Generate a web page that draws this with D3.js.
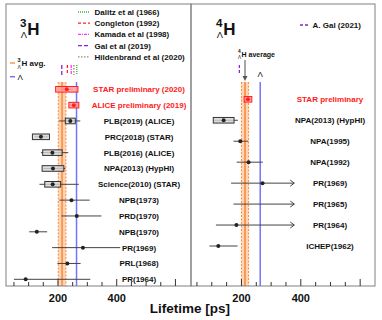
<!DOCTYPE html>
<html>
<head>
<meta charset="utf-8">
<script src="https://cdn.jsdelivr.net/npm/d3@7"></script>
<style>
body { margin: 0; background: #fff; }
text { font-family: "Liberation Sans", Arial, Helvetica, sans-serif; }
</style>
</head>
<body>
<svg id="chart" width="382" height="320"></svg>
<script>
// hypertriton measurements, top to bottom
const h3Labels = ["STAR preliminary (2020)", "ALICE preliminary (2019)", "PLB(2019) (ALICE)", "PRC(2018) (STAR)",
    "PLB(2016) (ALICE)", "NPA(2013) (HypHI)", "Science(2010) (STAR)", "NPB(1973)", "PRD(1970)",
    "NPB(1970)", "PR(1969)", "PRL(1968)", "PR(1964)"];
const h3Tau  = [230, 254, 242, 142, 181, 183, 182, 246, 264, 128, 285, 232, 90];
const h3Low  = [210, 239, 204, 121, 142, 151, 137, 205, 212, 102, 180, 198, 50];
const h3High = [250, 269, 276, 166, 235, 225, 271, 308, 348, 163, 412, 277, 310];
const h3Sys  = [38, 17, 17, 29, 33, 37, 27, 0, 0, 0, 0, 0, 0];
const h3Prelim = [true, true, false, false, false, false, false, false, false, false, false, false, false];

// 4LH measurements
const h4Labels = ["STAR preliminary", "NPA(2013) (HypHI)", "NPA(1995)", "NPA(1992)", "PR(1969)",
    "PR(1965)", "PR(1964)", "ICHEP(1962)"];
const h4Tau  = [222, 140, 196, 224, 271, null, 183, 122];
const h4Low  = [212, 107, 173, 184, 165, 173, 114, 92];
const h4High = [232, 188, 223, 272, 378, 378, 378, 187];
const h4Sys  = [13, 35, 0, 0, 0, 0, 0, 0];
const h4Arrow = [false, false, false, false, true, true, true, false];
const h4Prelim = [true, false, false, false, false, false, false, false];

// theory predictions
const h3TheoryNames = ["Dalitz et al (1966)", "Congleton (1992)", "Kamada et al (1998)", "Gal et al (2019)", "Hildenbrand et al (2020)"];
const h3TheoryTau = [264, 232, 245, 213, 254];
const h3TheoryColor = ["#33bb33", "#ff2020", "#ff33ff", "#8822dd", "#a08878"];
const h3TheoryDash = ["1,1", "3,2", "3,1,1,1", "4,2", "1.5,1.5"];
const h4TheoryNames = ["A. Gal (2021)"];
const h4TheoryTau = [193];

const lambdaTau = 263.2;
const h3Avg = 214, h3AvgErr = 13;
const h4Avg = 212, h4AvgErr = 12;

const ticks = [50, 100, 150, 200, 250, 300, 350, 400, 450, 500, 550, 600];
const tickLabels = [200, 400];

let svg = d3.select("#chart");
svg.append("rect").attr("width", 382).attr("height", 320).attr("fill", "#fff");

const plotTop = 4, plotBottom = 286;

function panel(xScale, rowY, opts) {
    let g = svg.append("g");
    let x0 = xScale.range()[0], x1 = xScale.range()[1];

    // average band
    let bandTop = 82;
    g.append("rect")
        .attr("x", xScale(opts.avg - opts.avgErr)).attr("y", bandTop)
        .attr("width", xScale(opts.avg + opts.avgErr) - xScale(opts.avg - opts.avgErr))
        .attr("height", plotBottom - bandTop)
        .attr("fill", "#fdd6b8");
    [opts.avg - opts.avgErr, opts.avg + opts.avgErr].forEach(function(v) {
        g.append("line").attr("x1", xScale(v)).attr("x2", xScale(v))
            .attr("y1", bandTop).attr("y2", plotBottom)
            .attr("stroke", "#ff8a3d").attr("stroke-width", 1).attr("stroke-dasharray", "2,1.5");
    });
    g.append("line").attr("x1", xScale(opts.avg)).attr("x2", xScale(opts.avg))
        .attr("y1", bandTop).attr("y2", plotBottom)
        .attr("stroke", "#f89a55").attr("stroke-width", 2);

    // lambda lifetime
    g.append("line").attr("x1", xScale(lambdaTau)).attr("x2", xScale(lambdaTau))
        .attr("y1", bandTop).attr("y2", plotBottom)
        .attr("stroke", "#7474ff").attr("stroke-width", 1.5);

    // measurements
    opts.labels.forEach(function(lab, i) {
        let y = rowY(lab);
        let col = opts.prelim[i] ? "#ff2020" : "#222";
        g.append("line").attr("x1", xScale(opts.low[i])).attr("x2", xScale(opts.high[i]))
            .attr("y1", y).attr("y2", y).attr("stroke", opts.prelim[i] ? "#ff2020" : "#444").attr("stroke-width", 1);
        if (opts.arrow && opts.arrow[i]) {
            let xe = xScale(opts.high[i]);
            g.append("path").attr("d", "M" + (xe - 4) + "," + (y - 3) + "L" + xe + "," + y + "L" + (xe - 4) + "," + (y + 3))
                .attr("fill", "none").attr("stroke", "#444").attr("stroke-width", 1);
        }
        if (opts.sys[i] > 0) {
            let t = opts.tau[i];
            g.append("rect").attr("x", xScale(t - opts.sys[i])).attr("y", y - 2.8)
                .attr("width", xScale(t + opts.sys[i]) - xScale(t - opts.sys[i])).attr("height", 5.6)
                .attr("fill", opts.prelim[i] ? "#ff9c9c" : "#d4d4d4")
                .attr("fill-opacity", 0.8)
                .attr("stroke", opts.prelim[i] ? "#ff2020" : "#333").attr("stroke-width", 1);
        }
        if (opts.tau[i] != null) {
            g.append("circle").attr("cx", xScale(opts.tau[i])).attr("cy", y).attr("r", 2)
                .attr("fill", col);
        }
        g.append("text").attr("x", opts.labelX).attr("y", y + 3)
            .attr("text-anchor", "middle").attr("font-size", 8).attr("font-weight", "bold")
            .attr("fill", opts.prelim[i] ? "#ff1a1a" : "#111")
            .text(lab);
    });

    // frame
    g.append("rect").attr("x", x0).attr("y", plotTop).attr("width", x1 - x0).attr("height", plotBottom - plotTop)
        .attr("fill", "none").attr("stroke", "#808080").attr("stroke-width", 1);

    // ticks (inside, ROOT style)
    ticks.forEach(function(v) {
        let major = v % 200 === 0;
        g.append("line").attr("x1", xScale(v)).attr("x2", xScale(v))
            .attr("y1", plotBottom).attr("y2", plotBottom - (major ? 7 : 4))
            .attr("stroke", "#333").attr("stroke-width", 1);
    });
    tickLabels.forEach(function(v) {
        g.append("text").attr("x", xScale(v)).attr("y", 301.5)
            .attr("text-anchor", "middle").attr("font-size", 11).attr("font-weight", "bold")
            .attr("fill", "#111").text(v);
    });
    return g;
}

// nuclide symbol with super/sub scripts
function nuclide(g, x, y, a, size, rest) {
    let t = g.append("text").attr("font-weight", "bold").attr("fill", "#111");
    g.append("text").attr("x", x).attr("y", y - size * 0.45).attr("font-size", size * 0.68)
        .attr("font-weight", "bold").attr("fill", "#111").text(a);
    g.append("text").attr("x", x + size * 0.05).attr("y", y + size * 0.15).attr("font-size", size * 0.55)
        .attr("fill", "#111").text("Λ");
    t.attr("x", x + size * 0.42).attr("y", y).attr("font-size", size).text("H" + (rest || ""));
}

let xLeft = d3.scaleLinear().domain([23, 653]).range([6, 191]);
let xRight = d3.scaleLinear().domain([30, 650]).range([191, 375]);
let yLeft = d3.scalePoint().domain(h3Labels).range([89.3, 279.3]);
let yRight = d3.scalePoint().domain(h4Labels).range([99.3, 246]);

let gl = panel(xLeft, yLeft, {
    labels: h3Labels, tau: h3Tau, low: h3Low, high: h3High, sys: h3Sys, prelim: h3Prelim,
    avg: h3Avg, avgErr: h3AvgErr, labelX: 139
});
let gr = panel(xRight, yRight, {
    labels: h4Labels, tau: h4Tau, low: h4Low, high: h4High, sys: h4Sys, prelim: h4Prelim, arrow: h4Arrow,
    avg: h4Avg, avgErr: h4AvgErr, labelX: 330
});

// titles
nuclide(gl, 20, 35, "3", 17);
nuclide(gr, 216, 35, "4", 17);

// left legend for theory
h3TheoryNames.forEach(function(name, i) {
    let y = 12 + i * 11.2;
    gl.append("line").attr("x1", 78).attr("x2", 90).attr("y1", y).attr("y2", y)
        .attr("stroke", h3TheoryColor[i]).attr("stroke-width", 1.3).attr("stroke-dasharray", h3TheoryDash[i]);
    gl.append("text").attr("x", 94.5).attr("y", y + 3).attr("font-size", 8).attr("font-weight", "bold")
        .attr("fill", "#111").text(name);
    gl.append("line").attr("x1", xLeft(h3TheoryTau[i])).attr("x2", xLeft(h3TheoryTau[i]))
        .attr("y1", 65).attr("y2", 75)
        .attr("stroke", h3TheoryColor[i]).attr("stroke-width", 1.3).attr("stroke-dasharray", h3TheoryDash[i]);
});

// avg / lambda legend (left)
gl.append("line").attr("x1", 10).attr("x2", 15).attr("y1", 63).attr("y2", 63).attr("stroke", "#f89a55").attr("stroke-width", 1.5);
gl.append("text").attr("x", 17.5).attr("y", 61.5).attr("font-size", 5.5).attr("font-weight", "bold").attr("fill", "#111").text("3");
gl.append("text").attr("x", 17.5).attr("y", 68.5).attr("font-size", 5).attr("fill", "#111").text("Λ");
gl.append("text").attr("x", 21.5).attr("y", 66).attr("font-size", 8).attr("font-weight", "bold").attr("fill", "#111").text("H avg.");
gl.append("line").attr("x1", 10).attr("x2", 15).attr("y1", 76.7).attr("y2", 76.7).attr("stroke", "#7474ff").attr("stroke-width", 1.5);
gl.append("text").attr("x", 17.5).attr("y", 79.5).attr("font-size", 8).attr("fill", "#111").text("Λ");

// right: theory legend and marker
gr.append("line").attr("x1", 300).attr("x2", 308.5).attr("y1", 25).attr("y2", 25)
    .attr("stroke", "#8822dd").attr("stroke-width", 1.3).attr("stroke-dasharray", "3,2");
gr.append("text").attr("x", 312.5).attr("y", 28).attr("font-size", 8).attr("font-weight", "bold").attr("fill", "#111").text(h4TheoryNames[0]);
gr.append("line").attr("x1", xRight(h4TheoryTau[0])).attr("x2", xRight(h4TheoryTau[0]))
    .attr("y1", 65).attr("y2", 75)
    .attr("stroke", "#8822dd").attr("stroke-width", 1.3).attr("stroke-dasharray", "3,2");

// 4LH average arrow
let ax = xRight(h4Avg);
gr.append("line").attr("x1", ax).attr("x2", ax).attr("y1", 60).attr("y2", 78)
    .attr("stroke", "#777").attr("stroke-width", 1.3);
gr.append("path").attr("d", "M" + (ax - 2.5) + ",76L" + ax + ",81L" + (ax + 2.5) + ",76Z").attr("fill", "#555");
gr.append("text").attr("x", 238).attr("y", 53).attr("font-size", 4.8).attr("font-weight", "bold").attr("fill", "#111").text("4");
gr.append("text").attr("x", 238).attr("y", 59).attr("font-size", 4.5).attr("fill", "#111").text("Λ");
gr.append("text").attr("x", 241.5).attr("y", 57).attr("font-size", 7).attr("font-weight", "bold").attr("fill", "#111").text("H average");
gr.append("text").attr("x", xRight(lambdaTau)).attr("y", 77).attr("text-anchor", "middle")
    .attr("font-size", 8).attr("fill", "#111").text("Λ");

// axis title
svg.append("text").attr("x", 190).attr("y", 313).attr("text-anchor", "middle")
    .attr("font-size", 13.5).attr("font-weight", "bold").attr("fill", "#111").text("Lifetime [ps]");
</script>
</body>
</html>
